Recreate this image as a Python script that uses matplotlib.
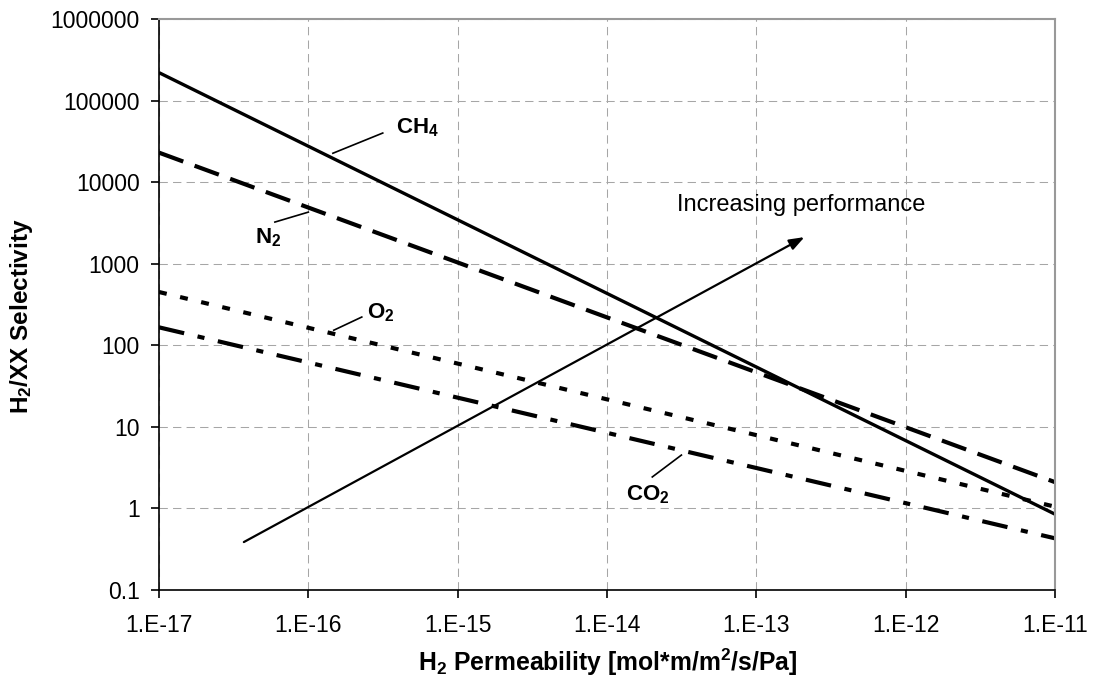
import numpy as np
import matplotlib
matplotlib.use("Agg")
import matplotlib.pyplot as plt

plt.rcParams["font.family"] = ["Liberation Sans", "DejaVu Sans"]
plt.rcParams["mathtext.fontset"] = "custom"
plt.rcParams["mathtext.rm"] = "Liberation Sans"
plt.rcParams["mathtext.bf"] = "Liberation Sans:bold"
plt.rcParams["mathtext.default"] = "regular"

# H2 permeability range and selectivity at both ends of each trade-off line
permeabilidad = [1e-17, 1e-11]
sel_ch4 = [2.2e5, 0.85]
sel_n2 = [2.3e4, 2.1]
sel_o2 = [450, 1.05]
sel_co2 = [166, 0.43]

xticks = [1e-17, 1e-16, 1e-15, 1e-14, 1e-13, 1e-12, 1e-11]
xtick_labels = ["1.E-17", "1.E-16", "1.E-15", "1.E-14", "1.E-13", "1.E-12", "1.E-11"]
yticks = [0.1, 1, 10, 100, 1000, 10000, 100000, 1000000]
ytick_labels = ["0.1", "1", "10", "100", "1000", "10000", "100000", "1000000"]

fig = plt.figure(figsize=(10.96, 6.85), dpi=100)
ax = fig.add_axes([159 / 1096, 1 - 590 / 685, (1055 - 159) / 1096, (590 - 19) / 685])

ax.plot(permeabilidad, sel_ch4, color="black", lw=2.4, solid_capstyle="butt")
ax.plot(permeabilidad, sel_n2, color="black", lw=3.0, linestyle=(0, (6.2, 2.9)))
ax.plot(permeabilidad, sel_o2, color="black", lw=3.0, linestyle=(0, (1.9, 3.3)))
ax.plot(permeabilidad, sel_co2, color="black", lw=3.0,
        linestyle=(0, (6.2, 3.3, 1.7, 3.3)))

ax.set_xscale("log")
ax.set_yscale("log")
ax.set_xlim(1e-17, 1e-11)
ax.set_ylim(0.1, 1e6)
ax.set_xticks(xticks)
ax.set_xticklabels(xtick_labels)
ax.set_yticks(yticks)
ax.set_yticklabels(ytick_labels)
ax.minorticks_off()
ax.tick_params(axis="both", labelsize=16.5, length=6, width=1.2, direction="out",
               color="black")
ax.tick_params(axis="x", pad=11)
ax.tick_params(axis="y", pad=8)

ax.grid(True, color="#a6a6a6", lw=0.75, linestyle=(0, (8, 5)))
ax.set_axisbelow(True)
for lado in ["top", "right"]:
    ax.spines[lado].set_color("#999999")
    ax.spines[lado].set_linewidth(1.5)
for lado in ["left", "bottom"]:
    ax.spines[lado].set_color("black")
    ax.spines[lado].set_linewidth(1.2)

# etiquetas de cada gas con su linea guia
etiquetas = [
    ("CH$_4$", (1.46e-16, 2.26e4), (3.15e-16, 4.0e4), (3.85e-16, 4.7e4)),
    ("N$_2$", (1.0e-16, 4.29e3), (5.97e-17, 3.24e3), (4.38e-17, 2.06e3)),
    ("O$_2$", (1.48e-16, 153), (2.28e-16, 222), (2.46e-16, 248)),
    ("CO$_2$", (3.15e-14, 4.51), (2.01e-14, 2.43), (1.35e-14, 1.46)),
]
for texto, p1, p2, pos in etiquetas:
    ax.plot([p1[0], p2[0]], [p1[1], p2[1]], color="black", lw=1.2)
    ax.text(pos[0], pos[1], texto, fontsize=16, fontweight="bold",
            ha="left", va="center")

# flecha de mejora
ax.annotate("", xy=(2.1e-13, 2.12e3), xytext=(3.7e-17, 0.387),
            arrowprops=dict(arrowstyle="-|>,head_length=0.6,head_width=0.22",
                            color="black", lw=1.6, mutation_scale=15,
                            shrinkA=0, shrinkB=0))
ax.text(2.96e-14, 5.2e3, "Increasing performance", fontsize=17,
        ha="left", va="center")

fig.text(608 / 1096, 1 - 662 / 685, "H$_2$ Permeability [mol*m/m$^2$/s/Pa]",
         fontsize=17.8, fontweight="bold", ha="center", va="center")
fig.text(22 / 1096, 1 - 316 / 685, "H$_2$/XX Selectivity", fontsize=17.5,
         fontweight="bold", ha="center", va="center", rotation=90)

fig.savefig("out.png", dpi=100)
